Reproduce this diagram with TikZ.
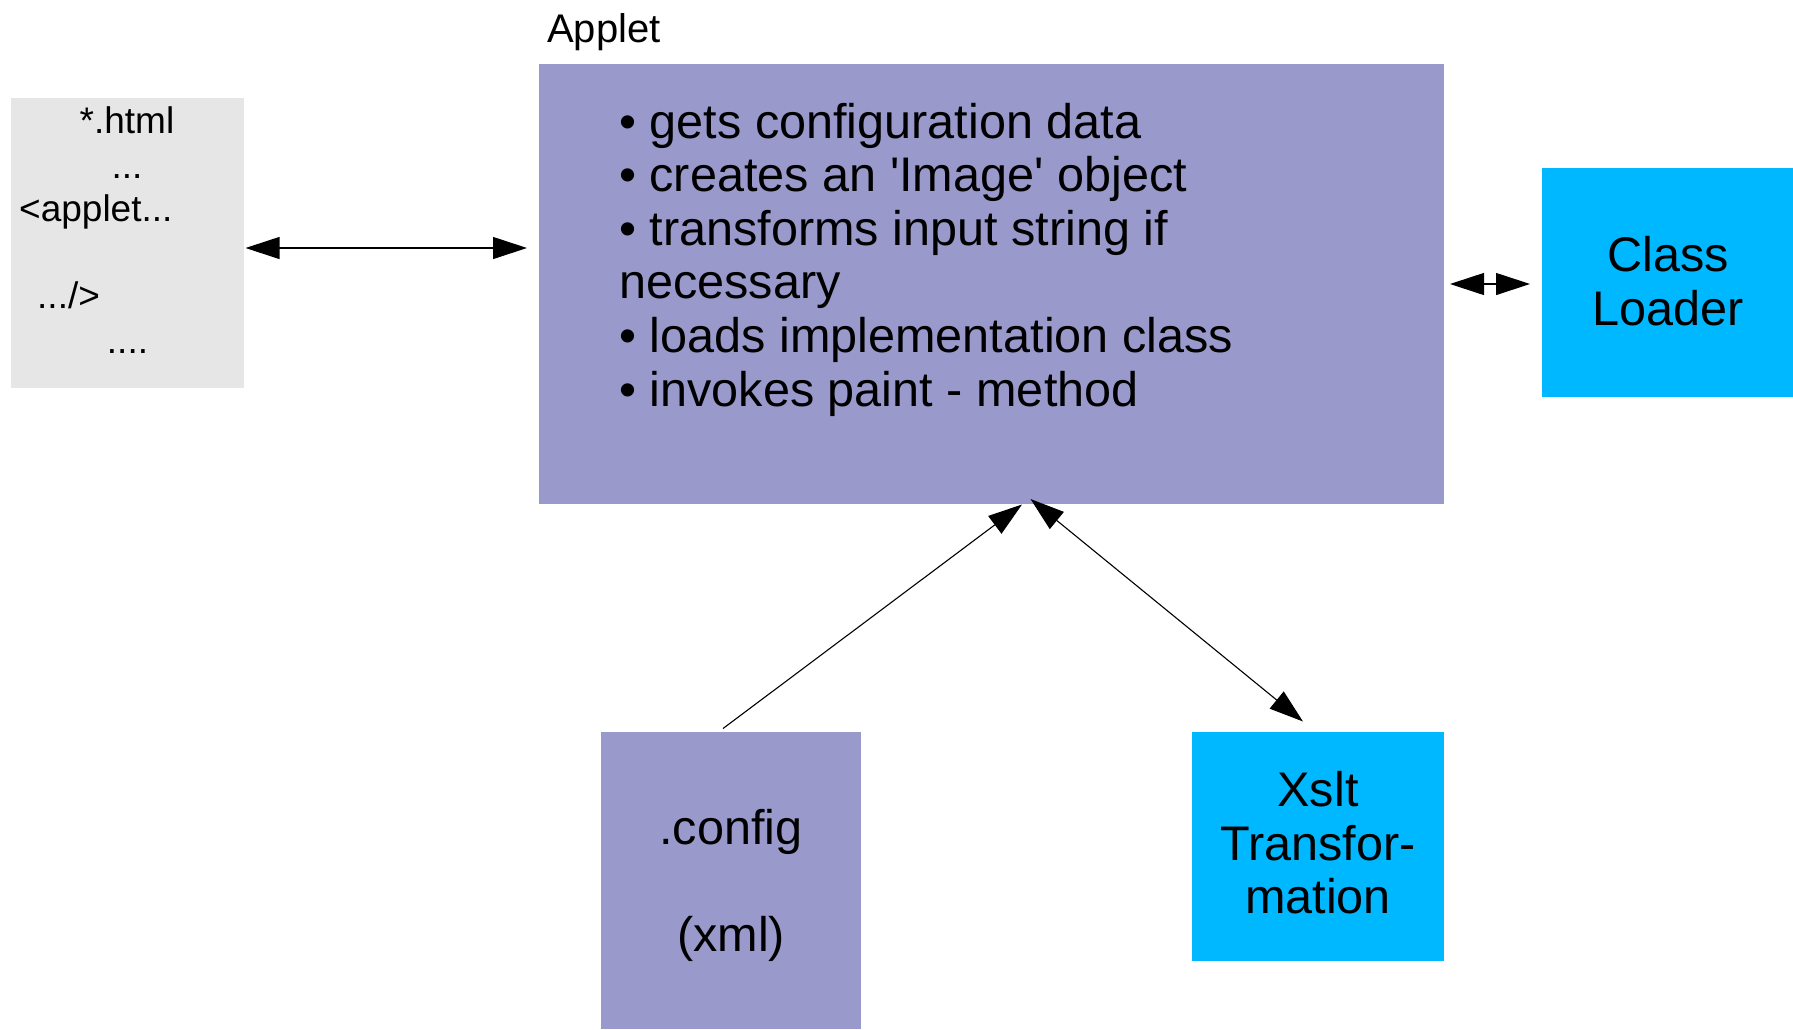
\documentclass[tikz,border=0pt]{standalone}
\usepackage{fontspec}
\setmainfont{Liberation Sans}
\usetikzlibrary{arrows.meta,calc}
\definecolor{lav}{HTML}{9999CC}
\definecolor{sky}{HTML}{00B8FF}
\definecolor{lgray}{HTML}{E6E6E6}
\tikzset{
  box/.style={inner sep=0pt, outer sep=0pt, anchor=north west, draw=none},
  big/.style={inner sep=0pt, font=\fontsize{48.6}{53.6}\selectfont},
  small/.style={inner sep=0pt, font=\fontsize{37}{44}\selectfont},
  biarr/.style={line width=1.1pt, {Triangle[length=34pt,width=22pt]}-{Triangle[length=34pt,width=22pt]}},
  onearr/.style={line width=1.1pt, -{Triangle[length=34pt,width=22pt]}}
}
\begin{document}
\begin{tikzpicture}[x=1pt,y=-1pt]
\useasboundingbox (0,0) rectangle (1793,1029);
% boxes
\node[box, fill=lgray, minimum width=233pt, minimum height=290pt] (gray) at (11,98) {};
\node[box, fill=lav, minimum width=905pt, minimum height=440pt] (applet) at (539,64) {};
\node[box, fill=sky, minimum width=251pt, minimum height=229pt] (loader) at (1542,168) {};
\node[box, fill=lav, minimum width=260pt, minimum height=297pt] (config) at (601,732) {};
\node[box, fill=sky, minimum width=252pt, minimum height=229pt] (xslt) at (1192,732) {};
% labels
\node[inner sep=0pt, anchor=base west, font=\fontsize{40}{46}\selectfont] (applabel) at (547,42) {Applet};
% html text
\node[small, anchor=base] (h1) at (127,133) {*.html};
\node[small, anchor=base] (h2) at (127,178) {...};
\node[small, anchor=base west] (h3) at (19,221) {<applet...};
\node[small, anchor=base west] (h4) at (37,308) {.../>};
\node[small, anchor=base] (h5) at (127.5,353) {....};
% applet bullets
\node[big, anchor=base west] (b1) at (619,138) {• gets configuration data};
\node[big, anchor=base west] (b2) at (619,191.6) {• creates an \textquotesingle Image\textquotesingle{} object};
\node[big, anchor=base west] (b3) at (619,245.2) {• transforms input string if};
\node[big, anchor=base west] (b4) at (619,298.8) {necessary};
\node[big, anchor=base west] (b5) at (619,352.4) {• loads implementation class};
\node[big, anchor=base west] (b6) at (619,406) {• invokes paint - method};
% class loader
\node[big, anchor=base] (cl1) at (1668,271) {Class};
\node[big, anchor=base] (cl2) at (1668,325) {Loader};
% config
\node[big, anchor=base] (cf1) at (731,844) {.config};
\node[big, anchor=base] (cf2) at (731,951) {(xml)};
% xslt
\node[big, anchor=base] (x1) at (1318,806) {Xslt};
\node[big, anchor=base] (x2) at (1318,860) {Transfor-};
\node[big, anchor=base] (x3) at (1318,913) {mation};
% connectors
\draw[biarr] ($(gray.east)+(1.5,5)$) -- ($(applet.west)+(-12,-36)$);
\draw[biarr] ($(applet.east)+(6,0)$) -- ($(loader.west)+(-12,1.5)$);
\draw[onearr] ($(config.north)+(-8,-3.5)$) -- ($(applet.south)+(30.5,0.5)$);
\draw[biarr] ($(applet.south)+(39,-5)$) -- ($(xslt.north)+(-15,-10.5)$);
\end{tikzpicture}
\end{document}
